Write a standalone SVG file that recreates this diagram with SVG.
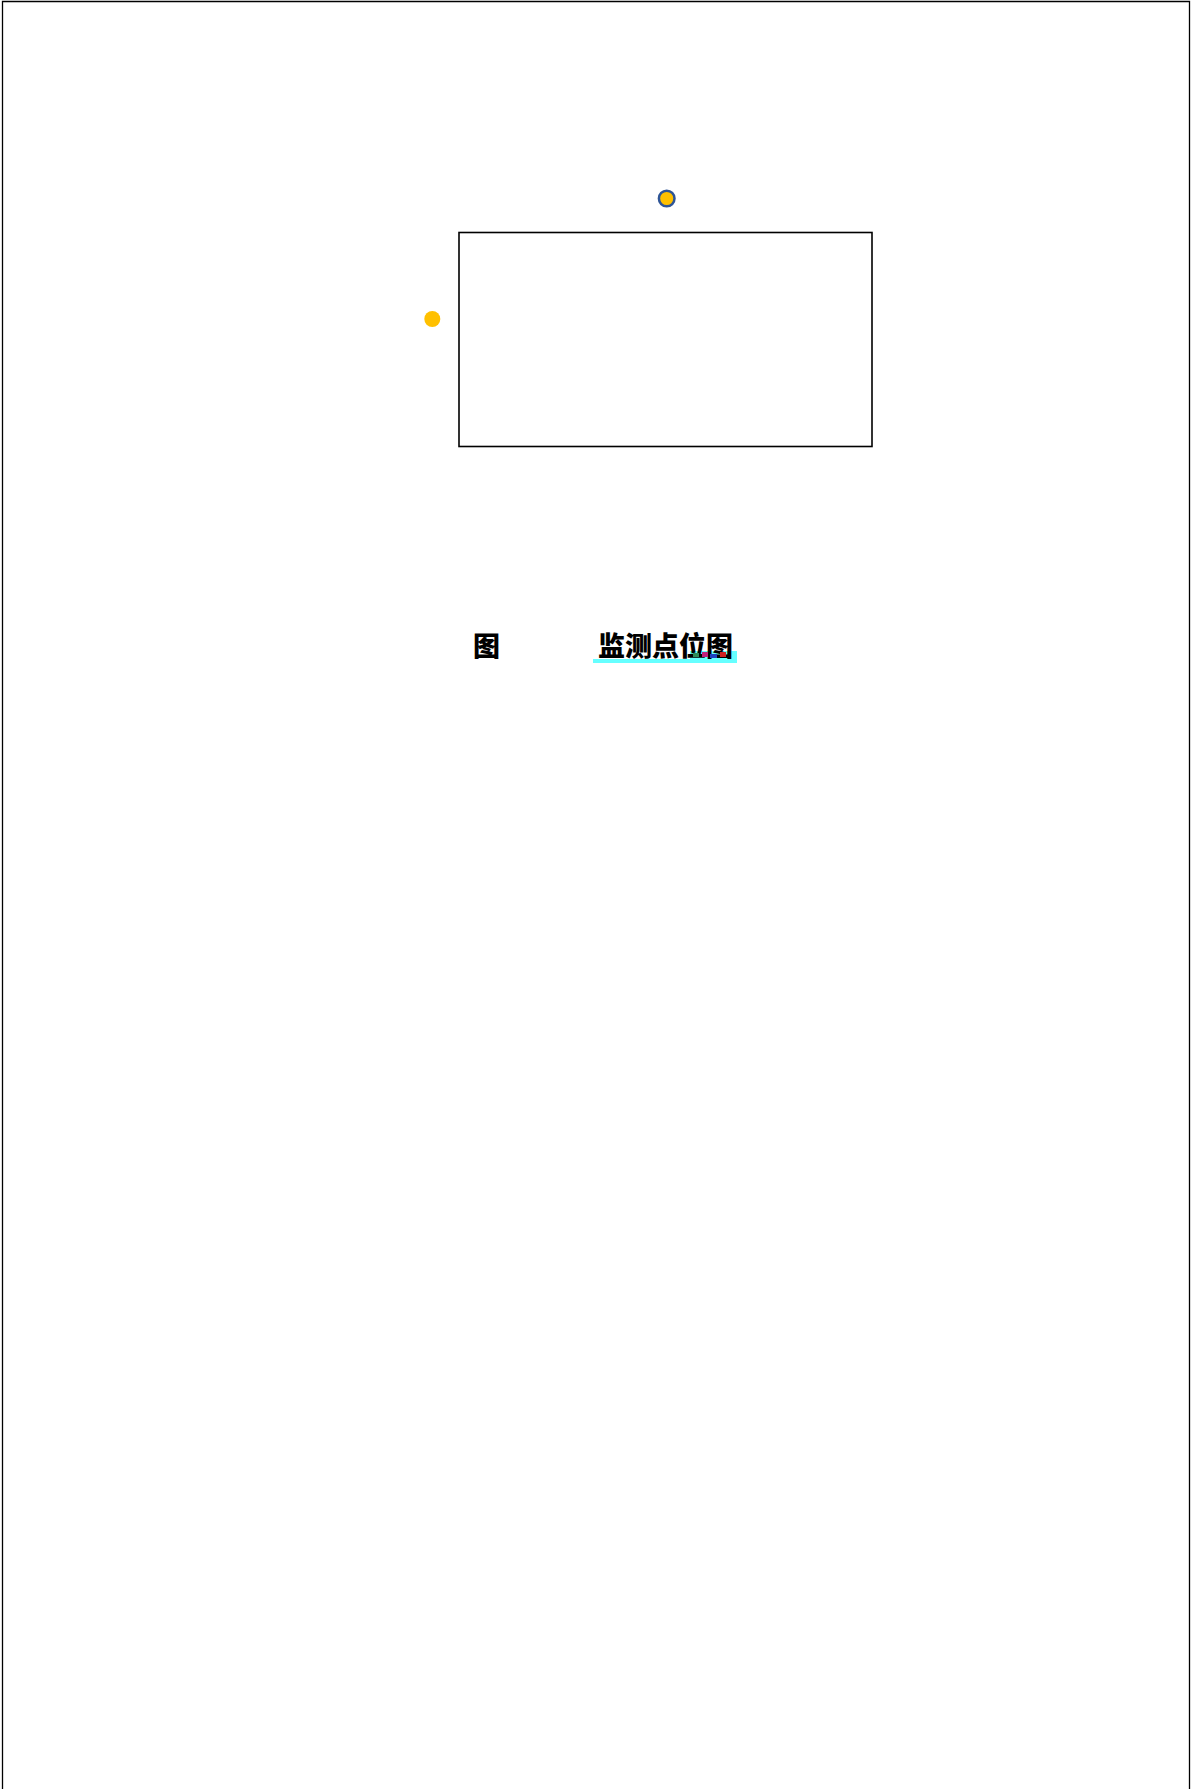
<svg xmlns="http://www.w3.org/2000/svg" width="1191" height="1789" viewBox="0 0 1191 1789">
<style>
.frame{fill:none;stroke:#000;stroke-width:1.3}
.box{fill:#fff;stroke:#000;stroke-width:1.6}
.title{font-family:"Noto Sans CJK SC",sans-serif;font-size:27px;font-weight:900;fill:#000}
</style>
<rect width="1191" height="1789" fill="#fff"/>
<g id="frame">
<path class="frame" d="M2.5,1789 V1.5 H1189.5 V1789"/>
</g>
<g id="area">
<rect class="box" x="459" y="232.5" width="413" height="214"/>
</g>
<g id="point-top">
<circle cx="666.7" cy="198.5" r="7.8" fill="#FFC000" stroke="#2F5597" stroke-width="2.5"/>
</g>
<g id="point-left">
<circle cx="432.3" cy="319" r="8" fill="#FFC000"/>
</g>
<g id="caption">
<rect x="593" y="659" width="144" height="4" fill="#66FFFF"/>
<rect x="690" y="651" width="47" height="10" fill="#66FFFF"/>
<text class="title" x="473" y="656">图</text>
<text class="title" x="598" y="656" textLength="135">监测点位图</text>
<rect x="693" y="653" width="6" height="4" fill="#2E8B57"/>
<rect x="702" y="652" width="6" height="5" fill="#C0207A"/>
<rect x="710" y="654" width="7" height="4" fill="#1E40C0"/>
<rect x="720" y="652" width="6" height="5" fill="#D02020"/>
</g>
</svg>
